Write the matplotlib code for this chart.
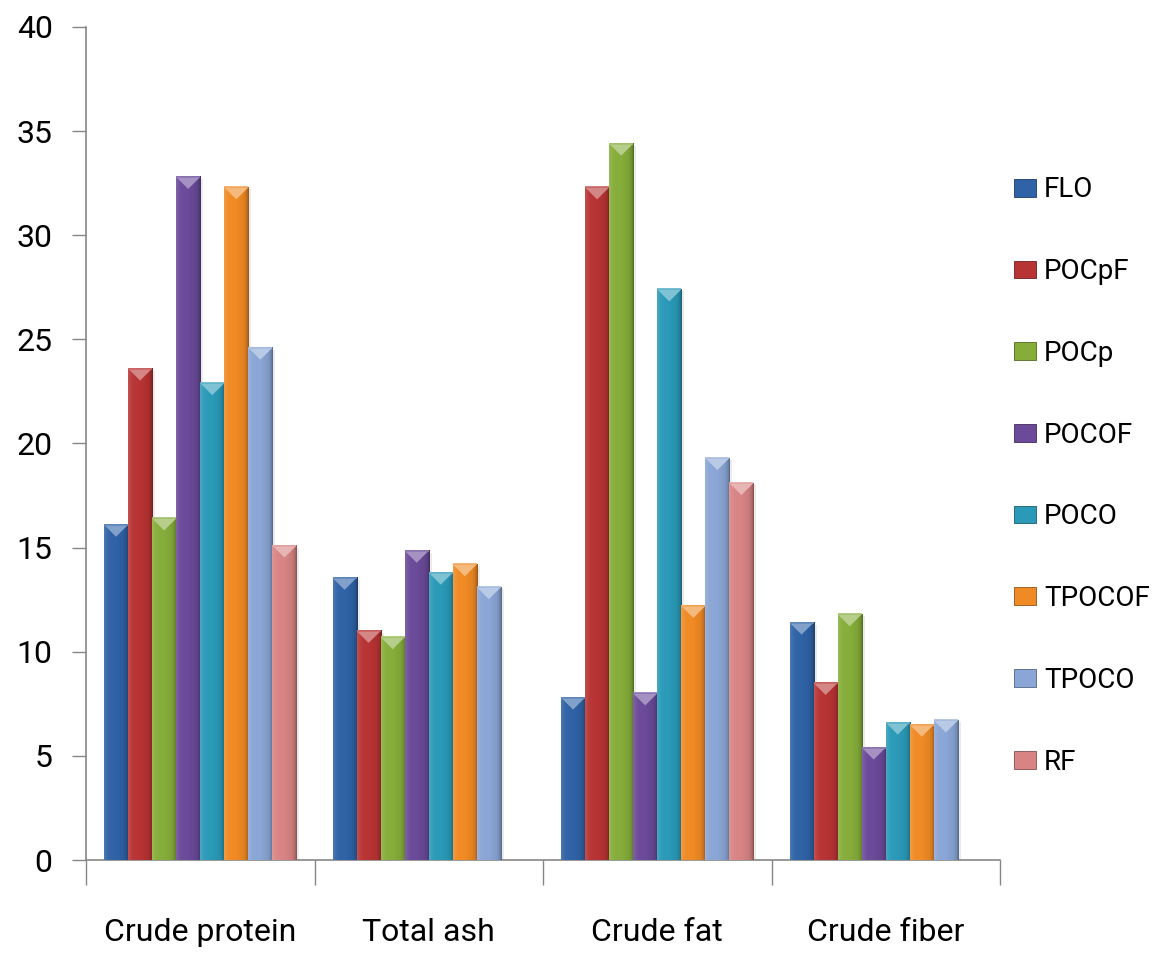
import numpy as np
import matplotlib
matplotlib.use("Agg")
import matplotlib.pyplot as plt
from matplotlib.colors import to_rgb
from matplotlib.patches import Polygon, Patch

# ── Data ────────────────────────────────────────────────────────────────
categories = ["Crude protein", "Total ash", "Crude fat", "Crude fiber"]
series = ["FLO", "POCpF", "POCp", "POCOF", "POCO", "TPOCOF", "TPOCO", "RF"]

flo = [16.1, 13.55, 7.8, 11.4]
pocpf = [23.6, 11.0, 32.3, 8.5]
pocp = [16.4, 10.7, 34.4, 11.8]
pocof = [32.8, 14.85, 8.0, 5.4]
poco = [22.9, 13.8, 27.4, 6.6]
tpocof = [32.3, 14.2, 12.2, 6.5]
tpoco = [24.6, 13.1, 19.3, 6.7]
rf = [15.1, np.nan, 18.1, np.nan]

values = [flo, pocpf, pocp, pocof, poco, tpocof, tpoco, rf]
colors = ["#2f62a6", "#b83333", "#86ad3a", "#6a4a99",
          "#2a9ab8", "#f08a24", "#8aa6d6", "#d98484"]

FONT = ["DejaVu Sans Condensed", "Roboto", "DejaVu Sans"]
plt.rcParams["font.family"] = FONT


def shade(c, f):
    r = np.array(to_rgb(c))
    if f >= 1:
        return tuple(r + (1 - r) * (f - 1))
    return tuple(r * f)


fig = plt.figure(figsize=(11.59, 9.58), dpi=100)
ax = fig.add_axes([86 / 1159, 98 / 958, 914 / 1159, 833 / 958])

n = len(series)
width = 1.0 / (n + 1.5)
x = np.arange(len(categories))
ylim = (0, 40)
y_per_px = (ylim[1] - ylim[0]) / 833.0
x_per_px = 4.0 / 914.0

# horizontal bevel profile across the bar face
prof_pos = np.linspace(0, 1, 60)
prof = np.interp(prof_pos, [0, 0.08, 0.2, 0.5, 0.8, 0.92, 1.0],
                 [1.15, 1.08, 1.02, 1.0, 0.93, 0.82, 0.62])

for i, (vals, col) in enumerate(zip(values, colors)):
    xs = x - 0.5 + 0.75 * width + i * width
    bars = ax.bar(xs, vals, width, align="edge", color=col,
                  edgecolor=shade(col, 0.6), linewidth=0.6, zorder=3)
    for b in bars:
        h = b.get_height()
        if not np.isfinite(h):
            continue
        x0, w = b.get_x(), b.get_width()
        # soft drop shadow
        ax.add_patch(plt.Rectangle((x0 + 3 * x_per_px, 0), w, h - 2 * y_per_px,
                                   color="#000000", alpha=0.08, lw=0, zorder=2))
        grad = np.array([shade(col, f) for f in prof])[None, :, :]
        ax.imshow(grad, extent=[x0, x0 + w, 0, h], aspect="auto",
                  interpolation="bilinear", zorder=3.5)
        d = (w / x_per_px) * 0.5 * y_per_px
        ax.add_patch(Polygon([(x0, h), (x0 + w, h), (x0 + w / 2, h - d)],
                             closed=True, facecolor=shade(col, 1.4),
                             edgecolor="none", zorder=4))
        ax.plot([x0, x0 + w], [h, h], color=shade(col, 1.25), lw=1.2,
                zorder=4.5, solid_capstyle="butt")

ax.set_xlim(-0.5, len(categories) - 0.5)
ax.set_ylim(*ylim)
ax.set_yticks(np.arange(0, 41, 5))

ax.set_xticks(np.arange(-0.5, len(categories), 1.0))
ax.set_xticklabels([])
ax.set_xticks(x, minor=True)
ax.set_xticklabels(categories, minor=True)
ax.tick_params(axis="x", which="major", length=18, width=1, color="#868686",
               direction="out")
ax.tick_params(axis="x", which="minor", length=0, pad=42, labelsize=23)
ax.tick_params(axis="y", length=10, width=1, color="#868686", pad=14,
               labelsize=23)

for s in ["top", "right"]:
    ax.spines[s].set_visible(False)
for s in ["left", "bottom"]:
    ax.spines[s].set_color("#868686")
    ax.spines[s].set_linewidth(1.2)

handles = [Patch(facecolor=c, edgecolor=shade(c, 0.6), linewidth=0.6)
           for c in colors]
fig.legend(handles, series, loc="center left",
           bbox_to_anchor=(1000 / 1159, 1 - 476 / 958), frameon=False,
           fontsize=20, handlelength=0.78, handleheight=0.6,
           handletextpad=0.3, labelspacing=1.97, borderpad=0)

fig.savefig("out.png", dpi=100)
